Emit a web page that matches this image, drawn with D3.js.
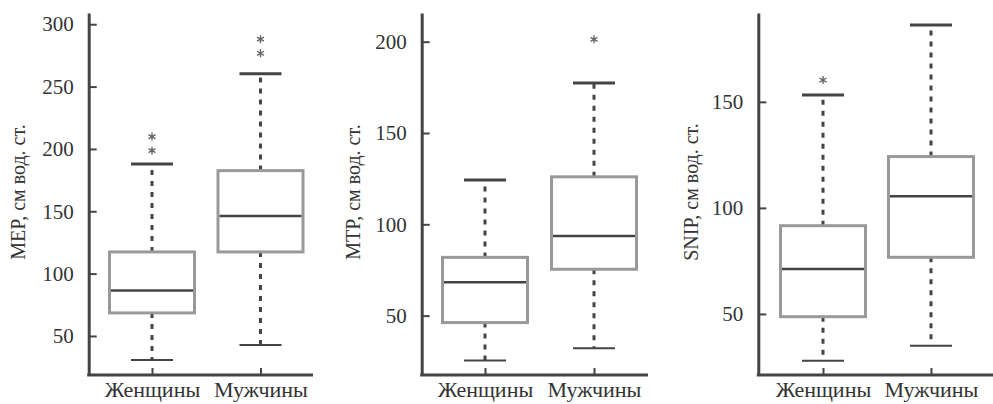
<!DOCTYPE html>
<html>
<head>
<meta charset="utf-8">
<script src="https://cdn.jsdelivr.net/npm/d3@7"></script>
<style>
  body { margin: 0; background: #fff; }
  svg { display: block; }
  svg text { font-family: "Liberation Serif", "DejaVu Serif", "Times New Roman", serif !important; fill: #333; }
</style>
</head>
<body>
<svg id="chart" width="993" height="404"></svg>
<script>
// группы и показатели
var groups = ["Женщины", "Мужчины"];
var yTitles = ["MEP, см вод. ст.", "MTP, см вод. ст.", "SNIP, см вод. ст."];

// [нижний ус, Q1, медиана, Q3, верхний ус] для каждой группы
var mepStats = [[30.7, 68.5, 86.4, 117.4, 188.0], [42.8, 117.4, 146.3, 182.6, 260.2]];
var mtpStats = [[25.4, 46.2, 68.3, 81.9, 124.3], [32.1, 75.4, 93.6, 126.0, 177.4]];
var snipStats = [[27.9, 48.7, 71.2, 91.6, 153.2], [35.0, 76.7, 105.5, 124.2, 186.2]];

// выбросы (звездочки)
var mepOutliers = [[198.6, 209.9], [276.7, 288.0]];
var mtpOutliers = [[], [201.3]];
var snipOutliers = [[160.3], []];

// шкалы
var mepTicks = [50, 100, 150, 200, 250, 300];
var mtpTicks = [50, 100, 150, 200];
var snipTicks = [50, 100, 150];
var mepDomain = [18.7, 309];
var mtpDomain = [17.5, 215.7];
var snipDomain = [21.2, 191.9];

var svg = d3.select("#chart");
var top0 = 13, bottom0 = 375;
var boxW = 85, capW = 42;
var serif = "Liberation Serif";

var panels = [
    {stats: mepStats, out: mepOutliers, ticks: mepTicks, domain: mepDomain, title: yTitles[0],
     axisX: 88.7, endX: 313, centers: [152, 260.5], titleX: 25},
    {stats: mtpStats, out: mtpOutliers, ticks: mtpTicks, domain: mtpDomain, title: yTitles[1],
     axisX: 421.7, endX: 648, centers: [485, 594], titleX: 360},
    {stats: snipStats, out: snipOutliers, ticks: snipTicks, domain: snipDomain, title: yTitles[2],
     axisX: 758.3, endX: 993, centers: [823, 931], titleX: 698}
];

panels.forEach(function(p){
    var y = d3.scaleLinear().domain(p.domain).range([bottom0, top0]);
    var x = d3.scalePoint().domain(groups).range(p.centers);
    var g = svg.append("g");

    // ось Y
    var ya = g.append("g")
        .attr("transform", "translate(" + p.axisX + ",0)")
        .call(d3.axisLeft(y).tickValues(p.ticks).tickSizeInner(-8).tickSizeOuter(0).tickPadding(15));
    ya.attr("font-family", serif).attr("font-size", 21);
    ya.select(".domain").attr("stroke", "#444").attr("stroke-width", 3);
    ya.selectAll(".tick line").attr("stroke", "#444").attr("stroke-width", 2);
    ya.selectAll(".tick text").attr("fill", "#333");

    // ось X
    var xa = g.append("g")
        .attr("transform", "translate(0," + bottom0 + ")")
        .call(d3.axisBottom(x).tickSizeInner(-7).tickSizeOuter(0).tickPadding(6));
    xa.attr("font-family", serif).attr("font-size", 22);
    xa.select(".domain").remove();
    xa.selectAll(".tick line").attr("stroke", "#444").attr("stroke-width", 2);
    xa.selectAll(".tick text").attr("fill", "#333");
    g.append("line")
        .attr("x1", p.axisX - 1.5).attr("x2", p.endX)
        .attr("y1", bottom0).attr("y2", bottom0)
        .attr("stroke", "#444").attr("stroke-width", 3);

    // подпись оси
    g.append("text")
        .attr("transform", "translate(" + p.titleX + "," + ((top0 + bottom0) / 2 - 2) + ") rotate(-90)")
        .attr("text-anchor", "middle")
        .attr("font-family", serif)
        .attr("font-size", 20)
        .text(p.title);

    groups.forEach(function(grp, i){
        var s = p.stats[i];
        var cx = x(grp);
        // усы пунктиром
        g.append("line")
            .attr("x1", cx).attr("x2", cx)
            .attr("y1", y(s[3])).attr("y2", y(s[4]))
            .attr("stroke", "#444").attr("stroke-width", 3).attr("stroke-dasharray", "5,6");
        g.append("line")
            .attr("x1", cx).attr("x2", cx)
            .attr("y1", y(s[1])).attr("y2", y(s[0]))
            .attr("stroke", "#444").attr("stroke-width", 3).attr("stroke-dasharray", "5,6");
        // засечки
        g.selectAll(null)
            .data([s[0], s[4]])
            .enter()
            .append("line")
            .attr("x1", cx - capW / 2).attr("x2", cx + capW / 2)
            .attr("y1", d => y(d)).attr("y2", d => y(d))
            .attr("stroke", "#444").attr("stroke-width", (d, k) => k == 0 ? 2 : 3);
        // ящик
        g.append("rect")
            .attr("x", cx - boxW / 2).attr("width", boxW)
            .attr("y", y(s[3])).attr("height", y(s[1]) - y(s[3]))
            .attr("fill", "#fff")
            .attr("stroke", "#999").attr("stroke-width", 3);
        // медиана
        g.append("line")
            .attr("x1", cx - boxW / 2 + 1.5).attr("x2", cx + boxW / 2 - 1.5)
            .attr("y1", y(s[2])).attr("y2", y(s[2]))
            .attr("stroke", "#444").attr("stroke-width", 2.5);
        // выбросы
        g.selectAll(null)
            .data(p.out[i])
            .enter()
            .append("path")
            .attr("d", d3.symbol(d3.symbolAsterisk, 45))
            .attr("transform", d => "translate(" + cx + "," + y(d) + ")")
            .attr("fill", "none")
            .attr("stroke", "#666").attr("stroke-width", 1.4);
    });
});
</script>
</body>
</html>
